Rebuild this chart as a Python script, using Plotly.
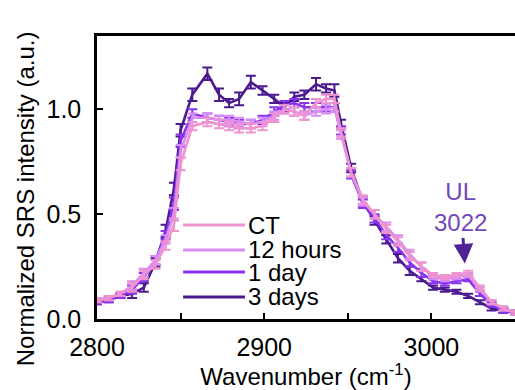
import plotly.graph_objects as go

# ---------------- data ----------------
wavenumber = [2800, 2807, 2814, 2821, 2828, 2835, 2841, 2846, 2850, 2857,
              2866, 2873, 2879, 2885, 2892, 2899, 2906, 2912, 2918, 2924,
              2931, 2937, 2942, 2946, 2952, 2959, 2966, 2973, 2980, 2987,
              2994, 3001, 3008, 3015, 3022, 3029, 3036, 3043, 3050]

ct = [0.09, 0.10, 0.12, 0.15, 0.21, 0.26, 0.35, 0.45, 0.74, 0.92,
      0.94, 0.93, 0.92, 0.91, 0.91, 0.92, 0.96, 1.00, 0.99, 0.97,
      1.03, 1.05, 1.05, 0.89, 0.70, 0.57, 0.50, 0.43, 0.37, 0.30,
      0.25, 0.21, 0.20, 0.21, 0.22, 0.15, 0.08, 0.05, 0.03]
ct_err = [0.01, 0.01, 0.01, 0.02, 0.02, 0.02, 0.02, 0.03, 0.03, 0.02,
          0.02, 0.02, 0.02, 0.02, 0.02, 0.02, 0.02, 0.02, 0.02, 0.02,
          0.02, 0.02, 0.02, 0.02, 0.02, 0.02, 0.02, 0.02, 0.02, 0.02,
          0.02, 0.01, 0.01, 0.01, 0.01, 0.01, 0.01, 0.01, 0.01]

h12 = [0.09, 0.10, 0.12, 0.16, 0.22, 0.28, 0.38, 0.50, 0.80, 0.96,
       0.96, 0.95, 0.95, 0.94, 0.93, 0.94, 0.97, 1.00, 0.99, 0.97,
       0.99, 1.00, 1.01, 0.88, 0.70, 0.56, 0.50, 0.44, 0.38, 0.31,
       0.25, 0.20, 0.19, 0.20, 0.21, 0.14, 0.08, 0.05, 0.03]
h12_err = [0.01, 0.01, 0.01, 0.02, 0.02, 0.02, 0.02, 0.03, 0.03, 0.02,
           0.02, 0.02, 0.02, 0.02, 0.02, 0.02, 0.02, 0.02, 0.02, 0.02,
           0.02, 0.02, 0.02, 0.02, 0.02, 0.02, 0.02, 0.02, 0.02, 0.02,
           0.02, 0.01, 0.01, 0.01, 0.01, 0.01, 0.01, 0.01, 0.01]

d1 = [0.08, 0.09, 0.11, 0.14, 0.20, 0.28, 0.40, 0.55, 0.85, 0.98,
      0.96, 0.95, 0.94, 0.93, 0.93, 0.95, 0.99, 1.02, 1.03, 1.01,
      1.01, 1.01, 1.01, 0.90, 0.69, 0.55, 0.48, 0.40, 0.34, 0.27,
      0.22, 0.18, 0.17, 0.18, 0.19, 0.12, 0.07, 0.04, 0.03]
d1_err = [0.01, 0.01, 0.01, 0.02, 0.02, 0.02, 0.02, 0.03, 0.03, 0.02,
          0.02, 0.02, 0.02, 0.02, 0.02, 0.02, 0.02, 0.02, 0.02, 0.02,
          0.02, 0.02, 0.02, 0.02, 0.02, 0.02, 0.02, 0.02, 0.02, 0.02,
          0.02, 0.01, 0.01, 0.01, 0.01, 0.01, 0.01, 0.01, 0.01]

d3 = [0.08, 0.09, 0.11, 0.12, 0.15, 0.27, 0.42, 0.62, 0.90, 1.07,
      1.17, 1.07, 1.03, 1.05, 1.13, 1.09, 1.05, 1.01, 1.06, 1.07,
      1.12, 1.10, 1.09, 0.93, 0.72, 0.56, 0.47, 0.38, 0.29, 0.23,
      0.19, 0.15, 0.14, 0.13, 0.11, 0.08, 0.05, 0.04, 0.03]
d3_err = [0.01, 0.01, 0.01, 0.02, 0.02, 0.02, 0.03, 0.03, 0.03, 0.03,
          0.03, 0.03, 0.02, 0.03, 0.03, 0.02, 0.02, 0.02, 0.02, 0.02,
          0.03, 0.02, 0.03, 0.02, 0.02, 0.02, 0.02, 0.02, 0.02, 0.02,
          0.01, 0.01, 0.01, 0.01, 0.01, 0.01, 0.01, 0.01, 0.01]

series_names = ["CT", "12 hours", "1 day", "3 days"]
series_values = [ct, h12, d1, d3]
series_errors = [ct_err, h12_err, d1_err, d3_err]
series_colors = ["#EE93CF", "#D98CF5", "#8A33EE", "#4B1A8E"]

x_tick_vals = [2800, 2900, 3000]
y_tick_vals = [0.0, 0.5, 1.0]
x_title = "Wavenumber (cm<sup>-1</sup>)"
y_title = "Normalized SRS intensity (a.u.)"
annot_x = 3022
annot_y = 0.265
annot_text = "UL<br>3022"

FONT = "Liberation Sans, Arial, sans-serif"

fig = go.Figure()

# draw darkest first so the pink CT ends on top
for i in [3, 2, 1, 0]:
    fig.add_trace(go.Scatter(
        x=wavenumber, y=series_values[i], name=series_names[i],
        mode="lines",
        line=dict(color=series_colors[i], width=2.6),
        error_y=dict(type="data", array=series_errors[i], visible=True,
                     color=series_colors[i], thickness=2, width=5),
        showlegend=False,
    ))

# custom legend (long line samples, tight spacing as in the reference)
leg_rows = [0.332, 0.244, 0.166, 0.078]
for name, color, yy in zip(series_names, series_colors, leg_rows):
    fig.add_shape(type="line", xref="paper", yref="paper",
                  x0=0.206, x1=0.354, y0=yy, y1=yy,
                  line=dict(color=color, width=3))
    fig.add_annotation(x=0.357, y=yy, xref="paper", yref="paper",
                       text=name, showarrow=False, xanchor="left",
                       yanchor="middle",
                       font=dict(family=FONT, size=24, color="black"))

# UL 3022 label with arrow pointing down to the band
fig.add_annotation(x=annot_x - 2, y=annot_y, ax=-4, ay=-56,
                   text=annot_text, showarrow=True,
                   arrowhead=2, arrowsize=1.3, arrowwidth=3,
                   arrowcolor="#4F2296", standoff=0, startstandoff=0,
                   font=dict(family=FONT, size=24, color="#7248B8"))

# y-axis title (placed slightly below centre, as in the reference)
fig.add_annotation(x=-0.171, y=0.425, xref="paper", yref="paper",
                   text=y_title, textangle=-90, showarrow=False,
                   xanchor="center", yanchor="middle",
                   font=dict(family=FONT, size=24, color="black"))

fig.update_layout(
    width=515, height=390,
    margin=dict(l=97, r=0, t=36, b=71),
    paper_bgcolor="white", plot_bgcolor="white",
    font=dict(family=FONT, size=25, color="black"),
    showlegend=False,
)
fig.update_xaxes(
    range=[2800, 3050], tickvals=x_tick_vals,
    ticks="inside", ticklen=6, tickwidth=2, tickcolor="black",
    minor=dict(dtick=50, tick0=2800, ticks="inside", ticklen=6,
               tickwidth=2, tickcolor="black"),
    showline=True, linecolor="black", linewidth=2.5, mirror=True,
    showgrid=False, zeroline=False, automargin=False,
    ticklabelstandoff=4,
    tickfont=dict(family=FONT, size=25, color="black"),
    title=dict(text=x_title, standoff=0,
               font=dict(family=FONT, size=24, color="black")),
)
fig.update_yaxes(
    range=[0, 1.35], tickvals=y_tick_vals, tickformat=".1f",
    ticks="inside", ticklen=6, tickwidth=2, tickcolor="black",
    showline=True, linecolor="black", linewidth=2.5, mirror=False,
    showgrid=False, zeroline=False, automargin=False,
    ticklabelstandoff=8,
    tickfont=dict(family=FONT, size=25, color="black"),
)

fig.write_html(
    "out.html",
    config={"displayModeBar": False},
    post_script="document.body.style.margin='0px';"
                "document.body.style.overflow='hidden';",
)
